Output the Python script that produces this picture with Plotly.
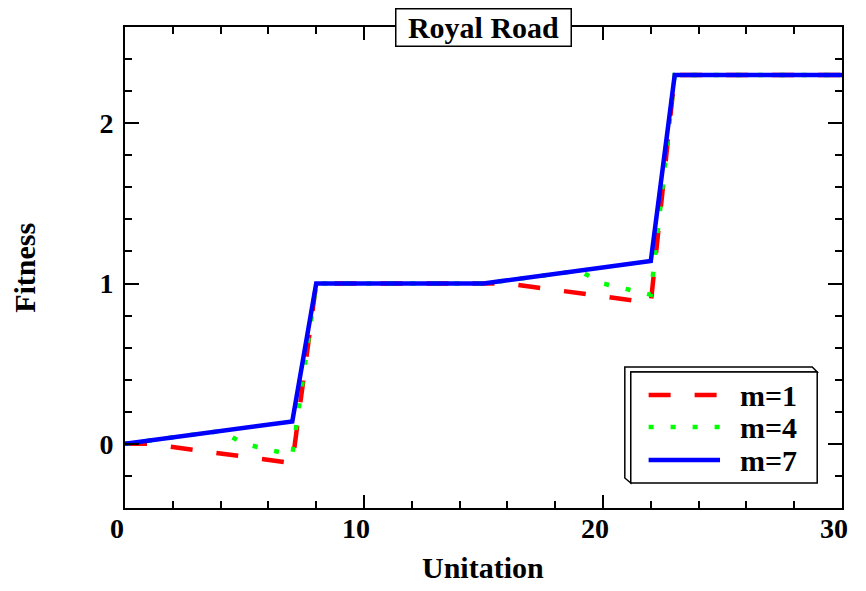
import plotly.graph_objects as go

# ---- data ----
unitation = list(range(0, 31))
fit_m1 = [0.0, 0.0, -0.02, -0.04, -0.06, -0.08, -0.10, -0.12,
          1.0, 1.0, 1.0, 1.0, 1.0, 1.0, 1.0, 1.0,
          1.0, 0.98, 0.96, 0.94, 0.92, 0.90, 0.88,
          2.3, 2.3, 2.3, 2.3, 2.3, 2.3, 2.3, 2.3]
fit_m4 = [0.0, 0.02, 0.04, 0.06, 0.08, 0.0, -0.035, -0.07,
          1.0, 1.0, 1.0, 1.0, 1.0, 1.0, 1.0, 1.0,
          1.02, 1.04, 1.06, 1.08, 1.0, 0.965, 0.93,
          2.3, 2.3, 2.3, 2.3, 2.3, 2.3, 2.3, 2.3]
fit_m7 = [0.0, 0.02, 0.04, 0.06, 0.08, 0.10, 0.12, 0.14,
          1.0, 1.0, 1.0, 1.0, 1.0, 1.0, 1.0, 1.0,
          1.02, 1.04, 1.06, 1.08, 1.10, 1.12, 1.14,
          2.3, 2.3, 2.3, 2.3, 2.3, 2.3, 2.3, 2.3]
series_names = ["m=1", "m=4", "m=7"]
series_colors = ["#ff0000", "#00ff00", "#0000ff"]
series_dashes = ["22px,24px", "5px,17px", "solid"]
x_ticks = [0, 10, 20, 30]
y_ticks = [0, 1, 2]

# the page body has an 8px margin on every side; keep the figure inside it
OFF = 8
W, H = 866, 591
L, R, T, B = 125, 848, 27, 508
FONT = "Liberation Serif"
FIG_W = W - 2 * OFF
FIG_H = H - 2 * OFF


def px(x):
    return (x - L) / (R - L)


def py(y):
    return (B - y) / (B - T)


fig = go.Figure()
for name, ys, col, dash in zip(series_names, [fit_m1, fit_m4, fit_m7],
                               series_colors, series_dashes):
    fig.add_trace(go.Scatter(x=unitation, y=ys, name=name, mode="lines",
                             line=dict(color=col, width=4.5, dash=dash),
                             showlegend=False))

axis_common = dict(showline=True, linewidth=2, linecolor="black",
                   mirror="ticks", ticks="inside", tickwidth=1.5,
                   tickcolor="black", showgrid=False, zeroline=False,
                   ticklabeloverflow="allow",
                   tickfont=dict(family=FONT, size=28, color="black",
                                 weight="bold"))

fig.update_xaxes(range=[0, 30], tickvals=x_ticks, ticklen=13,
                 ticklabelstandoff=-6, ticklabelshift=-8,
                 minor=dict(dtick=2, tick0=0, ticklen=7, tickwidth=1.5,
                            ticks="inside", tickcolor="black"),
                 **axis_common)
fig.update_yaxes(range=[-0.4, 2.6], tickvals=y_ticks, ticklen=14,
                 ticklabelstandoff=4,
                 minor=dict(dtick=0.2, tick0=0, ticklen=7, tickwidth=1.5,
                            ticks="inside", tickcolor="black"),
                 **axis_common)

shapes = []
# legend box with bevel
bevel = (f"M {px(629)},{py(367)} L {px(818)},{py(367)} L {px(823)},{py(372)} "
         f"L {px(635)},{py(372)} L {px(635)},{py(483)} L {px(629)},{py(478)} Z")
shapes.append(dict(type="path", xref="paper", yref="paper", path=bevel,
                   line=dict(color="black", width=1.5), fillcolor="white"))
shapes.append(dict(type="rect", xref="paper", yref="paper",
                   x0=px(635), x1=px(823), y0=py(483), y1=py(372),
                   line=dict(color="black", width=1.5), fillcolor="white"))
annotations = []
leg_y = [395, 427, 460]
for name, col, dash, yy in zip(series_names, series_colors, series_dashes, leg_y):
    shapes.append(dict(type="line", xref="paper", yref="paper",
                       x0=px(653), x1=px(725), y0=py(yy), y1=py(yy),
                       line=dict(color=col, width=4.5, dash=dash)))
    annotations.append(dict(xref="paper", yref="paper", x=px(743), y=py(yy),
                            xanchor="left", yanchor="middle", showarrow=False,
                            text=name,
                            font=dict(family=FONT, size=30, color="black",
                                      weight="bold")))

annotations.append(dict(xref="paper", yref="paper", x=px(486), y=py(28),
                        xanchor="center", yanchor="middle", showarrow=False,
                        text="Royal Road", bgcolor="white",
                        bordercolor="black", borderwidth=1.5, borderpad=1,
                        width=172, height=34,
                        font=dict(family=FONT, size=30, color="black",
                                  weight="bold")))
annotations.append(dict(xref="paper", yref="paper", x=px(23), y=py(268),
                        xanchor="center", yanchor="middle", showarrow=False,
                        text="Fitness", textangle=-90,
                        font=dict(family=FONT, size=30, color="black",
                                  weight="bold")))
annotations.append(dict(xref="paper", yref="paper", x=px(486), y=py(567),
                        xanchor="center", yanchor="middle", showarrow=False,
                        text="Unitation",
                        font=dict(family=FONT, size=30, color="black",
                                  weight="bold")))

fig.update_layout(width=FIG_W, height=FIG_H, autosize=False,
                  margin=dict(l=L - OFF, r=OFF + FIG_W - R, t=T - OFF,
                              b=OFF + FIG_H - B, pad=0),
                  paper_bgcolor="white", plot_bgcolor="white",
                  shapes=shapes, annotations=annotations,
                  showlegend=False)

fig.write_html("out.html")
